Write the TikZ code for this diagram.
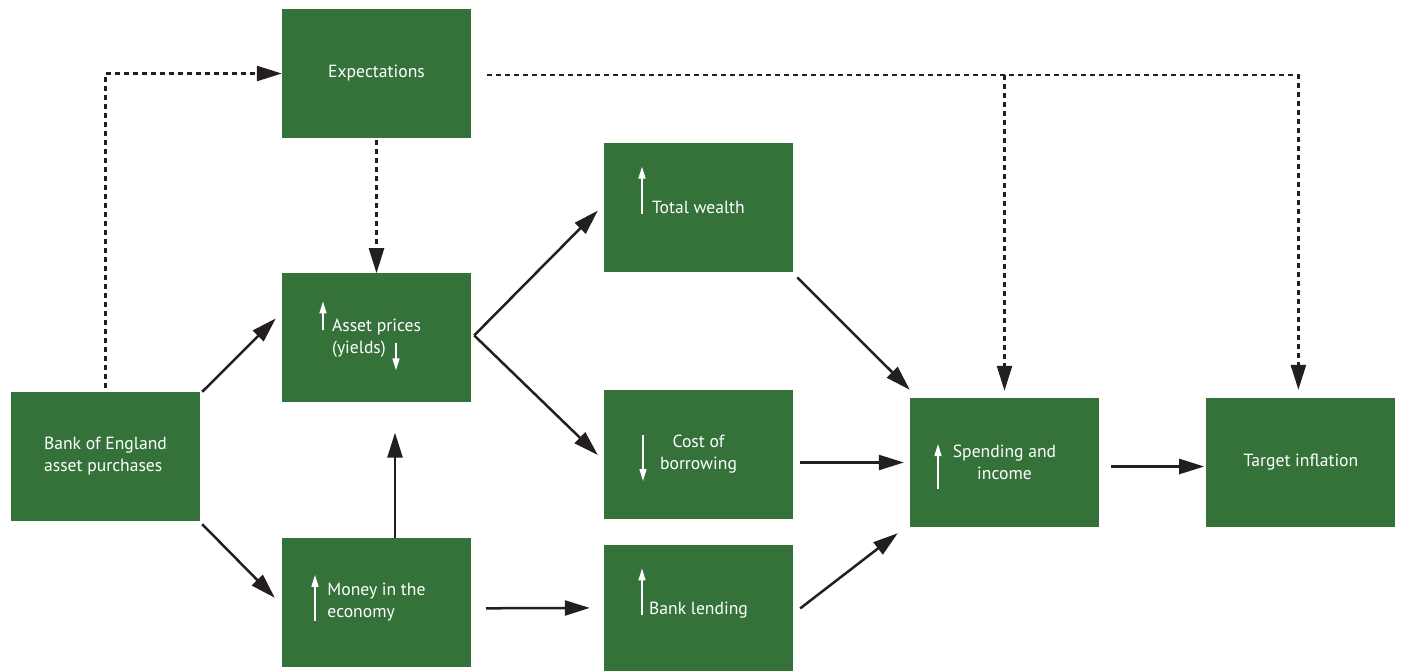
\documentclass[tikz,border=0pt]{standalone}
\usepackage{fontspec}
\setmainfont{PT Sans}
\usetikzlibrary{arrows.meta,positioning}
\definecolor{boegreen}{RGB}{52,114,58}
\definecolor{inkblack}{RGB}{35,31,32}

\begin{document}
\begin{tikzpicture}[
    x = 1pt, y = -1pt, % one unit per pixel, y going down
    > = {Triangle[length=25pt,width=15pt]}, % arrow head style
    link/.style = {->, draw=inkblack, line width=2.5pt},
    hint/.style = {link, dash pattern=on 5pt off 4pt},
    rise/.style = {-{Triangle[length=12pt,width=7pt]}, draw=white, line width=1.5pt}
    ]

    \tikzset{box/.style={
    fill = boegreen,
    text = white,
    minimum width = 189pt,
    minimum height = 129pt,
    inner sep = 0pt,
    font = \fontsize{17.6}{22}\selectfont
    }}

    \useasboundingbox (0,0) rectangle (1401,670);

    \node[box] (expect) at (376.5,73.5) {Expectations};
    \node[box, below=135pt of expect, align=left] (asset) {Asset prices\\(yields)};
    \node[box, below=135pt of asset, align=left] (money) {Money in the\\economy};
    \node[box, align=left] (boe) at (105.5,456.5) {Bank of England\\asset purchases};
    \node[box, align=center] (cost) at (698.5,454) {Cost of\\borrowing};
    \node[box, above=117pt of cost] (wealth) {Total wealth};
    \node[box, below=26.5pt of cost] (lending) {Bank lending};
    \node[box, align=center] (spend) at (1004.5,462.5) {Spending and\\income};
    \node[box, right=107pt of spend] (target) {Target inflation};

    % up and down marks inside the boxes
    \draw[rise] ([xshift=-53.5pt,yshift=7.5pt]asset.center) -- ++(0pt,29pt);
    \draw[rise] ([xshift=19.5pt,yshift=-5.5pt]asset.center) -- ++(0pt,-27pt);
    \draw[rise] ([xshift=-56.5pt,yshift=-6pt]wealth.center) -- ++(0pt,47pt);
    \draw[rise] ([xshift=-55.5pt,yshift=19pt]cost.center) -- ++(0pt,-46pt);
    \draw[rise] ([xshift=-61.5pt,yshift=-18.5pt]money.center) -- ++(0pt,46pt);
    \draw[rise] ([xshift=-56.5pt,yshift=-5.5pt]lending.center) -- ++(0pt,47pt);
    \draw[rise] ([xshift=-66.5pt,yshift=-26.5pt]spend.center) -- ++(0pt,45pt);

    % solid channels
    \draw[link] ([xshift=2pt]boe.north east) -- ([xshift=-6pt,yshift=19.5pt]asset.west);
    \draw[link] ([xshift=2pt,yshift=-3pt]boe.south east) -- ([xshift=-7pt,yshift=4.5pt]money.west);
    \draw[link] ([xshift=18.5pt]money.north) -- ([xshift=18.5pt,yshift=-30pt]asset.south);
    \draw[link] ([xshift=3pt,yshift=2.5pt]asset.east) -- ([xshift=-6pt,yshift=-3pt]wealth.west);
    \draw[link] ([xshift=3pt,yshift=2.5pt]asset.east) -- ([xshift=-6pt,yshift=-1pt]cost.west);
    \draw[link] ([xshift=15pt,yshift=-6pt]money.east) -- ([xshift=-14pt,yshift=2pt]lending.west);
    \draw[link] ([xshift=4pt,yshift=-5pt]wealth.south east) -- ([yshift=8pt]spend.north west);
    \draw[link] ([xshift=7pt,yshift=-8.5pt]cost.east) -- ([xshift=-6pt]spend.west);
    \draw[link] ([xshift=7pt,yshift=1.5pt]lending.east) -- ([xshift=-12pt,yshift=-6pt]spend.south west);
    \draw[link] ([xshift=12pt,yshift=-4pt]spend.east) -- ([xshift=-2pt,yshift=-4pt]target.west);

    % expectations channel
    \draw[hint] ([yshift=4pt]boe.north) |- (expect.west);
    \draw[hint] ([yshift=-2pt]expect.south) -- (asset.north);
    \coordinate (dashrow) at ([xshift=16pt,yshift=-1.5pt]expect.east);
    \draw[hint] (dashrow) -| ([xshift=-2.5pt,yshift=8pt]target.north);
    \draw[hint] (dashrow -| spend.north) -- ([yshift=7pt]spend.north);
\end{tikzpicture}
\end{document}
